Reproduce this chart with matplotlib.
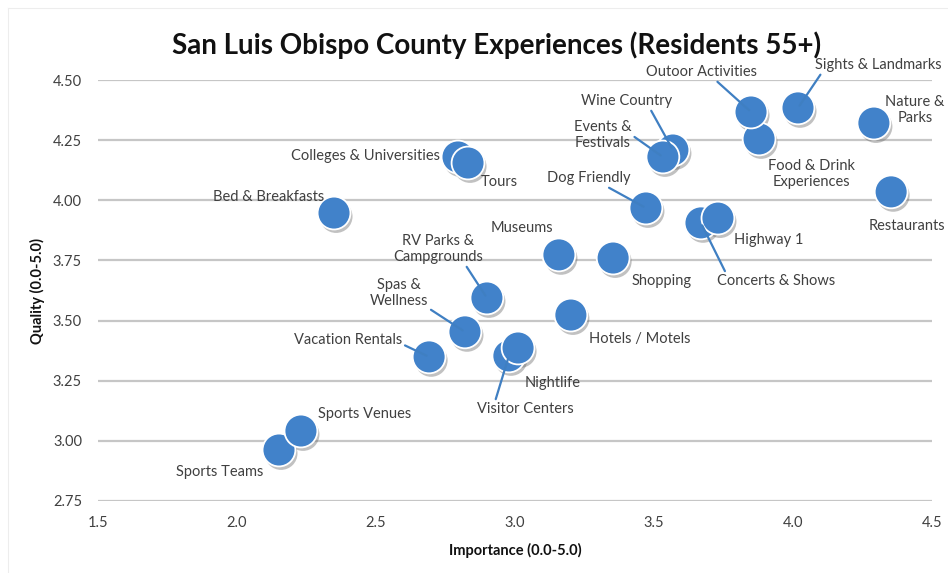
import matplotlib
matplotlib.use("Agg")
import matplotlib.pyplot as plt
import matplotlib.patheffects as pe
from matplotlib.lines import Line2D

# ---- data ----
labels = ["Sports Teams", "Sports Venues", "Bed & Breakfasts", "Vacation Rentals",
          "Spas &\nWellness", "RV Parks &\nCampgrounds", "Colleges & Universities", "Tours",
          "Visitor Centers", "Nightlife", "Museums", "Hotels / Motels", "Shopping",
          "Dog Friendly", "Wine Country", "Events &\nFestivals", "Concerts & Shows",
          "Highway 1", "Food & Drink\nExperiences", "Outoor Activities",
          "Sights & Landmarks", "Nature &\nParks", "Restaurants"]
importance = [2.151, 2.230, 2.349, 2.691, 2.820, 2.899, 2.795, 2.831,
              2.978, 3.011, 3.158, 3.201, 3.353, 3.471, 3.568, 3.532, 3.669,
              3.730, 3.878, 3.849, 4.018, 4.291, 4.353]
quality = [2.962, 3.041, 3.947, 3.349, 3.453, 3.594, 4.180, 4.155,
           3.353, 3.386, 3.773, 3.523, 3.760, 3.968, 4.209, 4.180, 3.906,
           3.926, 4.255, 4.367, 4.384, 4.321, 4.035]
x_ticks = [1.5, 2.0, 2.5, 3.0, 3.5, 4.0, 4.5]
y_ticks = [2.75, 3.00, 3.25, 3.50, 3.75, 4.00, 4.25, 4.50]

# ---- label placement (pixel offsets from point, leader-line anchor) ----
offsets = {
    "Sports Teams": (-59, -22, None),
    "Sports Venues": (64, 17, None),
    "Bed & Breakfasts": (-65, 16, None),
    "Vacation Rentals": (-81, 17, (1.0, 0.2)),
    "Spas &\nWellness": (-66, 39, (1.0, 0.0)),
    "RV Parks &\nCampgrounds": (-49, 49, (0.8, 0.0)),
    "Colleges & Universities": (-93, 1, None),
    "Tours": (31, -19, None),
    "Visitor Centers": (16, -53, (0.19, 1.0)),
    "Nightlife": (35, -35, None),
    "Museums": (-37, 27, None),
    "Hotels / Motels": (69, -24, None),
    "Shopping": (48, -23, None),
    "Dog Friendly": (-57, 30, (0.68, 0.0)),
    "Wine Country": (-46, 49, (0.75, 0.0)),
    "Events &\nFestivals": (-60, 22, (1.0, 0.5)),
    "Concerts & Shows": (75, -58, (0.08, 1.0)),
    "Highway 1": (51, -22, None),
    "Food & Drink\nExperiences": (52, -35, None),
    "Outoor Activities": (-50, 40, (0.62, 0.0)),
    "Sights & Landmarks": (80, 43, (0.06, 0.0)),
    "Nature &\nParks": (41, 13, None),
    "Restaurants": (16, -34, None),
}

FONT = "Lato"
TXT = "#404040"
BLUE = "#4182ca"

fig = plt.figure(figsize=(9.48, 5.73), dpi=100)
fig.patch.set_facecolor("white")
# faint outer frame (top and left edges visible in the reference)
fig.add_artist(Line2D([7.5 / 948, 1.0], [1 - 7.5 / 573] * 2, transform=fig.transFigure,
                      color="#ededed", lw=0.8))
fig.add_artist(Line2D([7.5 / 948] * 2, [0.0, 1 - 7.5 / 573], transform=fig.transFigure,
                      color="#ededed", lw=0.8))

ax = fig.add_axes([98 / 948, 1 - 501 / 573, (932 - 98) / 948, (501 - 80) / 573])
ax.set_xlim(1.5, 4.5)
ax.set_ylim(2.75, 4.50)
ax.set_xticks(x_ticks)
ax.set_yticks(y_ticks)
ax.set_xticklabels([f"{v:.1f}" for v in x_ticks], fontfamily=FONT, fontsize=10.5, color=TXT)
ax.set_yticklabels([f"{v:.2f}" for v in y_ticks], fontfamily=FONT, fontsize=10.5, color=TXT)
ax.tick_params(axis="x", length=0, pad=11)
ax.tick_params(axis="y", length=0, pad=11.5)
for s in ax.spines.values():
    s.set_visible(False)
ax.grid(axis="y", color="#c6c6c6", lw=1.6)
ax.set_axisbelow(True)

ax.scatter(importance, quality, s=560, c=BLUE, edgecolors="white", linewidths=1.3,
           zorder=2, clip_on=False,
           path_effects=[pe.SimplePatchShadow(offset=(1.5, -2.5), shadow_rgbFace="#666666", alpha=0.4),
                         pe.Normal()])

for lab, x, y in zip(labels, importance, quality):
    dx, dy, rel = offsets[lab]
    kw = dict(xy=(x, y), xytext=(dx, dy), textcoords="offset pixels",
              ha="center", va="center", fontsize=10.5, fontfamily=FONT, color=TXT,
              linespacing=1.2, zorder=4, annotation_clip=False)
    if rel is not None:
        kw["arrowprops"] = dict(arrowstyle="-", color="#3f7fc2", lw=1.6,
                                shrinkA=0, shrinkB=2, relpos=rel)
    ax.annotate(lab, **kw)

fig.text(497 / 948, 1 - 45 / 573, "San Luis Obispo County Experiences (Residents 55+)",
         ha="center", va="center", fontsize=20, fontweight="bold", fontfamily=FONT,
         color="#111111")
ax.set_xlabel("Importance (0.0-5.0)", fontfamily=FONT, fontsize=10.5, fontweight="bold",
              color="#111111", labelpad=9)
ax.set_ylabel("Quality (0.0-5.0)", fontfamily=FONT, fontsize=10.5, fontweight="bold",
              color="#111111", labelpad=6)

fig.savefig("out.png", dpi=100)
